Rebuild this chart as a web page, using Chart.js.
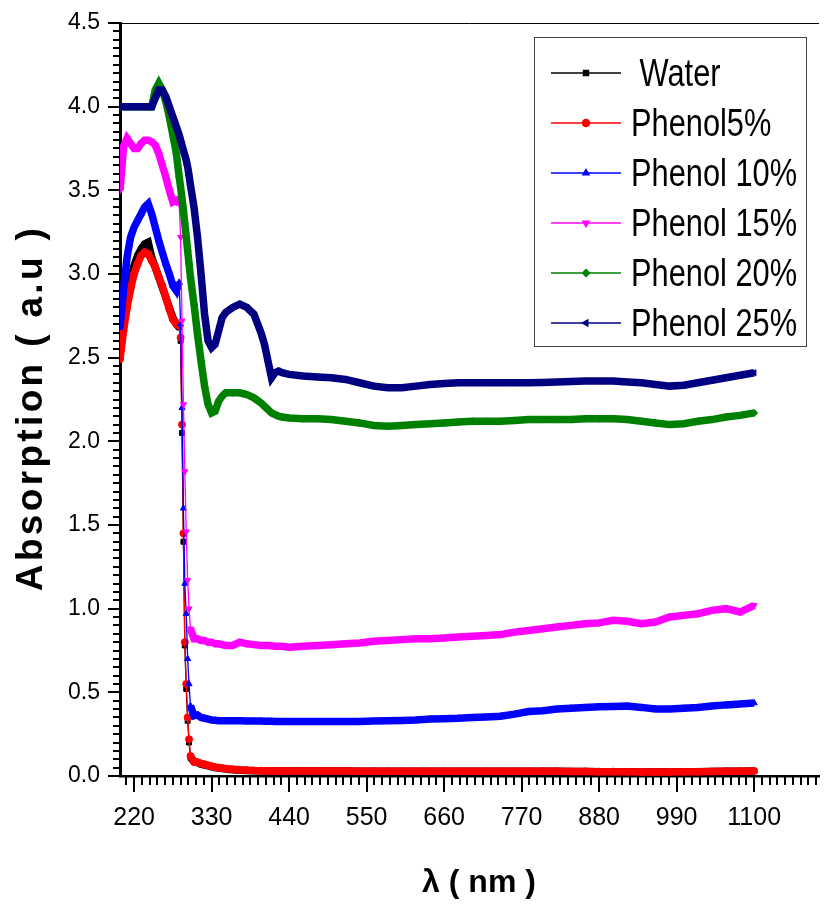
<!DOCTYPE html>
<html>
<head>
<meta charset="utf-8">
<script src="https://cdn.jsdelivr.net/npm/chart.js@4.4.1/dist/chart.umd.min.js"></script>
<style>
  html, body { margin: 0; padding: 0; background: #fff; }
  #wrap { width: 824px; height: 906px; }
</style>
</head>
<body>
<div id="wrap"><canvas id="chart" width="824" height="906"></canvas></div>
<script>
// wavelength (nm) shared by all curves
const wavelength = [
  200, 205, 210, 215, 220, 225, 230, 235, 240, 245,
  250, 255, 260, 265, 270, 275, 280, 284, 286, 288,
  290, 292, 294, 296, 298, 300, 305, 310, 315, 320,
  325, 330, 335, 340, 345, 350, 360, 370, 380, 390,
  400, 405, 410, 415, 420, 425, 430, 440, 460, 480,
  500, 520, 540, 560, 580, 600, 620, 640, 660, 680,
  700, 720, 740, 760, 780, 800, 820, 840, 860, 880,
  900, 920, 940, 960, 980, 1000, 1020, 1040, 1060, 1080,
  1100
];

const water = [
  2.52, 2.70, 2.86, 2.97, 3.05, 3.11, 3.15, 3.18, 3.19, 3.10,
  3.04, 2.98, 2.92, 2.86, 2.80, 2.74, 2.70, 2.68, 2.60, 2.05,
  1.40, 0.78, 0.52, 0.33, 0.20, 0.11, 0.085, 0.08, 0.07, 0.065,
  0.06, 0.055, 0.05, 0.048, 0.045, 0.042, 0.038, 0.035, 0.033, 0.032,
  0.031, 0.030, 0.030, 0.030, 0.030, 0.030, 0.030, 0.030, 0.030, 0.030,
  0.030, 0.030, 0.029, 0.029, 0.028, 0.028, 0.028, 0.028, 0.028, 0.028,
  0.028, 0.028, 0.028, 0.028, 0.028, 0.028, 0.028, 0.027, 0.027, 0.026,
  0.026, 0.025, 0.024, 0.024, 0.024, 0.025, 0.026, 0.027, 0.028, 0.029,
  0.030
];

const phenol5 = [
  2.49, 2.66, 2.80, 2.91, 3.00, 3.06, 3.11, 3.13, 3.12, 3.08,
  3.04, 2.98, 2.93, 2.86, 2.79, 2.73, 2.70, 2.69, 2.62, 2.10,
  1.45, 0.80, 0.55, 0.35, 0.22, 0.12, 0.085, 0.082, 0.075, 0.07,
  0.064, 0.058, 0.053, 0.05, 0.047, 0.044, 0.04, 0.037, 0.035, 0.033,
  0.032, 0.031, 0.031, 0.030, 0.030, 0.030, 0.030, 0.030, 0.030, 0.030,
  0.030, 0.030, 0.029, 0.029, 0.028, 0.028, 0.028, 0.028, 0.028, 0.028,
  0.028, 0.028, 0.028, 0.028, 0.028, 0.028, 0.028, 0.027, 0.027, 0.026,
  0.026, 0.025, 0.024, 0.024, 0.024, 0.025, 0.026, 0.027, 0.028, 0.029,
  0.030
];

const phenol10 = [
  2.68, 2.90, 3.10, 3.22, 3.28, 3.32, 3.36, 3.40, 3.42, 3.36,
  3.28, 3.20, 3.13, 3.06, 3.00, 2.93, 2.90, 2.95, 2.70, 2.20,
  1.60, 1.15, 0.97, 0.70, 0.55, 0.42, 0.36, 0.365, 0.35, 0.345,
  0.34, 0.335, 0.333, 0.33, 0.33, 0.33, 0.33, 0.33, 0.328, 0.328,
  0.328, 0.327, 0.327, 0.327, 0.326, 0.326, 0.326, 0.325, 0.325, 0.325,
  0.325, 0.325, 0.326, 0.328, 0.33, 0.332, 0.335, 0.34, 0.342, 0.345,
  0.35, 0.353, 0.357, 0.37, 0.385, 0.39, 0.40, 0.405, 0.41, 0.414,
  0.416, 0.418, 0.41, 0.40, 0.40, 0.405, 0.41, 0.418, 0.425, 0.43,
  0.436
];

const phenol15 = [
  3.50, 3.76, 3.81, 3.78, 3.75, 3.75, 3.78, 3.80, 3.80, 3.79,
  3.77, 3.72, 3.65, 3.58, 3.50, 3.43, 3.44, 3.42, 3.22, 2.72,
  2.22, 1.82, 1.46, 1.17, 1.00, 0.88, 0.82, 0.82, 0.81, 0.81,
  0.80, 0.80, 0.79, 0.79, 0.785, 0.78, 0.78, 0.80, 0.79, 0.785,
  0.78, 0.78, 0.78, 0.778, 0.775, 0.775, 0.775, 0.77, 0.775, 0.78,
  0.785, 0.79, 0.795, 0.805, 0.81, 0.815, 0.82, 0.82, 0.825, 0.83,
  0.835, 0.84, 0.845, 0.86, 0.87, 0.88, 0.89, 0.90, 0.91, 0.915,
  0.93, 0.925, 0.91, 0.92, 0.95, 0.96, 0.97, 0.99, 1.00, 0.98,
  1.02
];

const phenol20 = [
  4.00, 4.00, 4.00, 4.00, 4.00, 4.00, 4.00, 4.00, 4.00, 4.00,
  4.10, 4.14, 4.10, 4.03, 3.94, 3.83, 3.72, 3.58, 3.52, 3.45,
  3.38, 3.30, 3.22, 3.14, 3.06, 2.98, 2.82, 2.64, 2.48, 2.33,
  2.22, 2.17, 2.18, 2.24, 2.27, 2.29, 2.29, 2.29, 2.28, 2.26,
  2.23, 2.21, 2.19, 2.17, 2.16, 2.15, 2.145, 2.14, 2.135, 2.135,
  2.13, 2.12, 2.11, 2.095, 2.09, 2.095, 2.10, 2.105, 2.11, 2.115,
  2.12, 2.12, 2.12, 2.125, 2.13, 2.13, 2.13, 2.13, 2.135, 2.135,
  2.135, 2.13, 2.12, 2.11, 2.10, 2.105, 2.12, 2.13, 2.145, 2.155,
  2.17
];

const phenol25 = [
  4.00, 4.00, 4.00, 4.00, 4.00, 4.00, 4.00, 4.00, 4.00, 4.00,
  4.05, 4.10, 4.10, 4.06, 4.00, 3.94, 3.88, 3.83, 3.80, 3.77,
  3.74, 3.71, 3.68, 3.64, 3.59, 3.53, 3.40, 3.22, 3.00, 2.76,
  2.60, 2.56, 2.58, 2.66, 2.74, 2.77, 2.80, 2.82, 2.80, 2.76,
  2.65, 2.58, 2.48, 2.38, 2.41, 2.42, 2.41, 2.40, 2.39, 2.385,
  2.38, 2.37, 2.35, 2.33, 2.32, 2.32, 2.33, 2.34, 2.345, 2.35,
  2.35, 2.35, 2.35, 2.35, 2.35, 2.352, 2.355, 2.357, 2.36, 2.36,
  2.36, 2.355, 2.35, 2.34, 2.33, 2.335, 2.35, 2.365, 2.38, 2.395,
  2.41
];

const xTicks = [220, 330, 440, 550, 660, 770, 880, 990, 1100];
const yTicks = [0, 0.5, 1.0, 1.5, 2.0, 2.5, 3.0, 3.5, 4.0, 4.5];

const sans = '"Liberation Sans", Arial, sans-serif';

const series = [
  { label: ' Water',     values: water,    color: '#000000', style: 'rect',     rot: 0,   thin: true },
  { label: 'Phenol5%',   values: phenol5,  color: '#ff0000', style: 'circle',   rot: 0,   thin: true },
  { label: 'Phenol 10%', values: phenol10, color: '#0000ff', style: 'triangle', rot: 0,   thin: true },
  { label: 'Phenol 15%', values: phenol15, color: '#ff00ff', style: 'triangle', rot: 180, thin: true },
  { label: 'Phenol 20%', values: phenol20, color: '#008000', style: 'rectRot',  rot: 0,   thin: false },
  { label: 'Phenol 25%', values: phenol25, color: '#000080', style: 'triangle', rot: -90, thin: false }
];

// steep drop near 290 nm is drawn as a thin line with markers
const dropSeg = (ctx) => {
  const a = wavelength[ctx.p0DataIndex], b = wavelength[ctx.p1DataIndex];
  return (a >= 284 && b <= 300) ? 1.3 : 7.5;
};

const datasets = series.map((s, k) => ({
  label: s.label,
  data: wavelength.map((w, i) => ({ x: w, y: s.values[i] })),
  borderColor: s.color,
  backgroundColor: s.color,
  borderWidth: 7.5,
  pointStyle: s.style,
  pointRotation: s.rot,
  pointRadius: 3.5,
  pointBorderWidth: 1,
  tension: 0,
  order: series.length - k,
  segment: s.thin ? { borderWidth: dropSeg } : undefined
}));

const decor = {
  id: 'decor',
  afterDraw(chart) {
    const ctx = chart.ctx, a = chart.chartArea;
    const xs = chart.scales.x, ys = chart.scales.y;
    ctx.save();
    ctx.strokeStyle = '#000';
    ctx.lineWidth = 2;
    // minor ticks
    ctx.beginPath();
    for (let v = 209; v <= xs.max; v += 11) {
      const px = Math.round(xs.getPixelForValue(v));
      ctx.moveTo(px, a.bottom); ctx.lineTo(px, a.bottom + 9);
    }
    for (let i = 0; i <= 90; i++) {
      const py = Math.round(ys.getPixelForValue(i * 0.05));
      ctx.moveTo(a.left, py); ctx.lineTo(a.left - 7, py);
    }
    ctx.stroke();
    // top frame line
    ctx.lineWidth = 1;
    ctx.beginPath();
    ctx.moveTo(a.left, a.top + 0.5); ctx.lineTo(a.right, a.top + 0.5);
    ctx.stroke();

    // axis titles
    ctx.fillStyle = '#000';
    const yt = 'Absorption ( a.u )';
    ctx.font = 'bold 37px ' + sans;
    const w = ctx.measureText(yt).width;
    ctx.save();
    ctx.translate(42, 408);
    ctx.rotate(-Math.PI / 2);
    ctx.letterSpacing = ((363 - w) / (yt.length - 1)).toFixed(2) + 'px';
    ctx.textAlign = 'center';
    ctx.textBaseline = 'alphabetic';
    ctx.fillText(yt, 0, 0);
    ctx.restore();

    ctx.font = 'bold 32px ' + sans;
    ctx.textAlign = 'center';
    ctx.textBaseline = 'alphabetic';
    ctx.fillText('\u03bb ( nm )', 479, 892);

    // legend box
    ctx.strokeStyle = '#444';
    ctx.lineWidth = 1;
    ctx.strokeRect(534.5, 37.5, 272, 309);
    chart.data.datasets.forEach((d, i) => {
      const y = 73 + i * 50;
      ctx.strokeStyle = d.borderColor;
      ctx.fillStyle = d.borderColor;
      ctx.lineWidth = 1.5;
      ctx.beginPath();
      ctx.moveTo(551, y); ctx.lineTo(621, y);
      ctx.stroke();
      Chart.helpers.drawPoint(ctx, { pointStyle: d.pointStyle, rotation: d.pointRotation, radius: 3.5, borderWidth: 1 }, 586, y);
      // condensed legend lettering
      ctx.save();
      ctx.translate(631, y + 13);
      ctx.scale(0.81, 1);
      ctx.fillStyle = '#000';
      ctx.font = '38px ' + sans;
      ctx.textAlign = 'left';
      ctx.textBaseline = 'alphabetic';
      ctx.fillText(d.label, 0, 0);
      ctx.restore();
    });
    ctx.restore();
  }
};

new Chart(document.getElementById('chart'), {
  type: 'line',
  data: { datasets },
  options: {
    responsive: false,
    animation: false,
    events: [],
    layout: { padding: { top: 23, right: 0, bottom: 0, left: 0 } },
    plugins: { legend: { display: false }, tooltip: { enabled: false } },
    scales: {
      x: {
        type: 'linear',
        min: 200,
        max: 1192,
        afterBuildTicks: (s) => { s.ticks = xTicks.map(v => ({ value: v })); },
        afterFit: (s) => { s.height = 130; },
        ticks: { color: '#000', font: { family: sans, size: 25 }, padding: 11, maxRotation: 0, autoSkip: false, callback: (v) => String(v) },
        grid: { drawOnChartArea: false, drawTicks: true, tickLength: 16, color: '#000', lineWidth: 2 },
        border: { display: true, color: '#000', width: 2.5 }
      },
      y: {
        min: 0,
        max: 4.5,
        afterBuildTicks: (s) => { s.ticks = yTicks.map(v => ({ value: v })); },
        afterFit: (s) => { s.width = 120; },
        ticks: { color: '#000', font: { family: sans, size: 23 }, padding: 8, callback: (v) => Number(v).toFixed(1) },
        grid: { drawOnChartArea: false, drawTicks: true, tickLength: 12, color: '#000', lineWidth: 2 },
        border: { display: true, color: '#000', width: 3 }
      }
    }
  },
  plugins: [decor]
});
</script>
</body>
</html>
